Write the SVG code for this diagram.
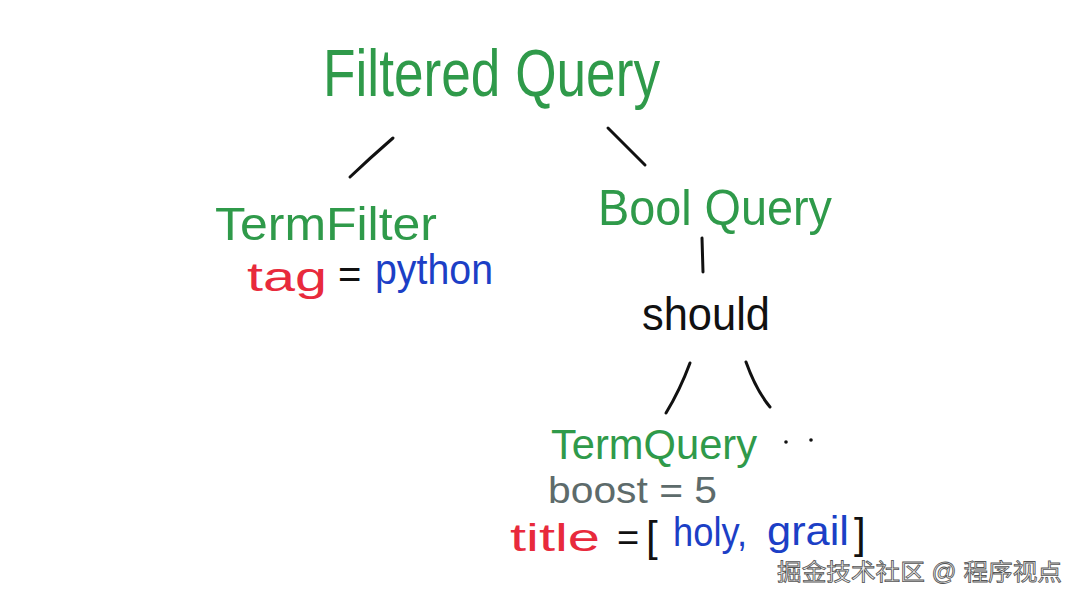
<svg xmlns="http://www.w3.org/2000/svg" width="1080" height="602" viewBox="0 0 1080 602">
<style>
text{font-family:"Liberation Sans","Noto Sans CJK SC",sans-serif;}
.g{fill:#2f9a4a;}
.r{fill:#e82a3c;}
.b{fill:#1c3fc6;}
.k{fill:#111;}
.gr{fill:#5d6b6b;}
.c{stroke:#111;stroke-width:3;fill:none;stroke-linecap:round;}
.wm{fill:#f2f2f2;stroke:#555;stroke-width:0.8;font-size:23px;}
</style>
<rect width="1080" height="602" fill="#fff"/>
<g id="connectors">
<path class="c" d="M393,138 Q370,158 350,177"/>
<path class="c" d="M608,128 Q628,148 645,165"/>
<path class="c" d="M702,238 L703,272"/>
<path class="c" d="M690,363 Q680,390 666,413"/>
<path class="c" d="M746,362 Q756,390 770,407"/>
</g>
<g id="filtered-query">
<text class="g" x="323" y="96" font-size="66" textLength="337" lengthAdjust="spacingAndGlyphs">Filtered Query</text>
</g>
<g id="term-filter">
<text class="g" x="215" y="240" font-size="47" textLength="222" lengthAdjust="spacingAndGlyphs">TermFilter</text>
<text class="r" x="247" y="291" font-size="40" textLength="80" lengthAdjust="spacingAndGlyphs">tag</text>
<text class="k" x="338" y="288" font-size="40">=</text>
<text class="b" x="375" y="284" font-size="42" textLength="118" lengthAdjust="spacingAndGlyphs">python</text>
</g>
<g id="bool-query">
<text class="g" x="598" y="225" font-size="50" textLength="234" lengthAdjust="spacingAndGlyphs">Bool Query</text>
</g>
<g id="should">
<text class="k" x="642" y="330" font-size="46" textLength="128" lengthAdjust="spacingAndGlyphs">should</text>
</g>
<g id="term-query">
<text class="g" x="551" y="459" font-size="42" textLength="206" lengthAdjust="spacingAndGlyphs">TermQuery</text>
<text class="gr" x="548" y="503" font-size="36" textLength="169" lengthAdjust="spacingAndGlyphs">boost = 5</text>
<text class="r" x="510" y="551" font-size="38" textLength="90" lengthAdjust="spacingAndGlyphs">title</text>
<text class="k" x="617" y="551" font-size="38">=</text>
<text class="k" x="646" y="551" font-size="42">[</text>
<text class="b" x="673" y="546" font-size="40" textLength="74" lengthAdjust="spacingAndGlyphs">holy,</text>
<text class="b" x="767" y="545" font-size="40" textLength="82" lengthAdjust="spacingAndGlyphs">grail</text>
<text class="k" x="854" y="548" font-size="42">]</text>
</g>
<g id="more">
<circle cx="786" cy="442" r="1.8" fill="#111"/>
<circle cx="811" cy="440" r="1.8" fill="#111"/>
</g>
<text class="wm" x="777" y="580" textLength="285" lengthAdjust="spacingAndGlyphs">掘金技术社区 @ 程序视点</text>
</svg>
